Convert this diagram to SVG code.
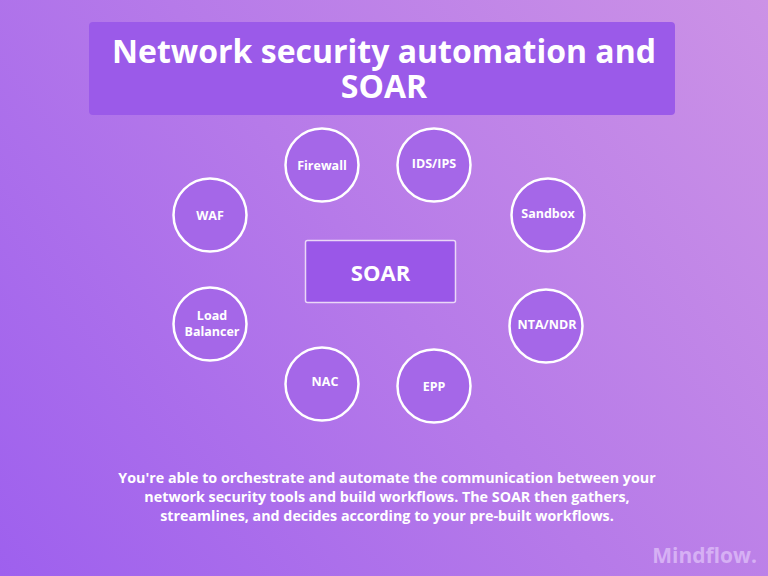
<svg xmlns="http://www.w3.org/2000/svg" width="768" height="576" viewBox="0 0 768 576">
  <defs>
    <linearGradient id="bg" x1="0" y1="576" x2="768" y2="0" gradientUnits="userSpaceOnUse">
      <stop offset="0" stop-color="#9e60ee"/>
      <stop offset="0.5" stop-color="#b67ae9"/>
      <stop offset="1" stop-color="#cc92e6"/>
    </linearGradient>
  </defs>
  <style>
    .node circle { fill: #a567e8; stroke: #ffffff; stroke-width: 2.5; }
    .lbl { font-family: "Open Sans", "Liberation Sans", sans-serif; font-weight: 700; font-size: 12.5px; fill: #ffffff; text-anchor: middle; }
    .title { font-family: "Open Sans", "Liberation Sans", sans-serif; font-weight: 700; font-size: 32px; fill: #ffffff; text-anchor: middle; }
    .body { font-family: "Open Sans", "Liberation Sans", sans-serif; font-weight: 700; font-size: 14.3px; fill: #ffffff; text-anchor: middle; }
  </style>
  <rect x="0" y="0" width="768" height="576" fill="url(#bg)"/>

  <g id="title">
    <rect x="89" y="22" width="586" height="93" rx="4" fill="#9b5ae9"/>
    <text class="title" x="384" y="63">Network security automation and</text>
    <text class="title" x="384" y="98">SOAR</text>
  </g>

  <g id="connectors"></g>

  <g id="soar" class="node">
    <rect x="305.5" y="240.5" width="150" height="62" rx="2" fill="#9a57e8" stroke="#ead7f7" stroke-width="1.5"/>
    <text x="380.5" y="281" font-family="'Open Sans', 'Liberation Sans', sans-serif" font-weight="700" font-size="22" fill="#ffffff" text-anchor="middle">SOAR</text>
  </g>

  <g id="firewall" class="node"><circle cx="322" cy="165" r="36.5"/><text class="lbl" x="322" y="170">Firewall</text></g>
  <g id="idsips" class="node"><circle cx="434" cy="165" r="36.5"/><text class="lbl" x="434" y="168">IDS/IPS</text></g>
  <g id="waf" class="node"><circle cx="210" cy="215" r="36.5"/><text class="lbl" x="210" y="220">WAF</text></g>
  <g id="sandbox" class="node"><circle cx="548" cy="215" r="36.5"/><text class="lbl" x="548" y="218">Sandbox</text></g>
  <g id="loadbalancer" class="node"><circle cx="210" cy="324" r="36.5"/><text class="lbl" x="212" y="320">Load</text><text class="lbl" x="212" y="336">Balancer</text></g>
  <g id="ntandr" class="node"><circle cx="546" cy="326" r="36.5"/><text class="lbl" x="547" y="329">NTA/NDR</text></g>
  <g id="nac" class="node"><circle cx="322" cy="384" r="36.5"/><text class="lbl" x="325" y="386">NAC</text></g>
  <g id="epp" class="node"><circle cx="434" cy="386" r="36.5"/><text class="lbl" x="434" y="391">EPP</text></g>

  <g id="description">
    <text class="body" x="387" y="483">You're able to orchestrate and automate the communication between your</text>
    <text class="body" x="387" y="502">network security tools and build workflows. The SOAR then gathers,</text>
    <text class="body" x="387" y="521">streamlines, and decides according to your pre-built workflows.</text>
  </g>

  <text x="757" y="563" font-family="'Open Sans', 'Liberation Sans', sans-serif" font-weight="700" font-size="21" fill="#d6b0f4" text-anchor="end">Mindflow.</text>
</svg>
